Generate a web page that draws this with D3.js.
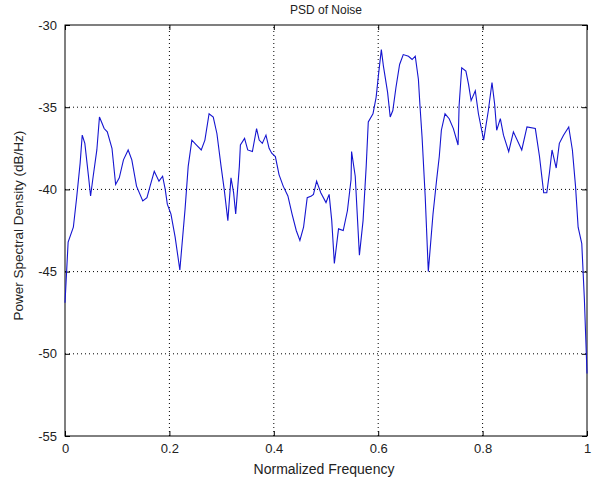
<!DOCTYPE html>
<html>
<head>
<meta charset="utf-8">
<script src="https://cdn.jsdelivr.net/npm/d3@7/dist/d3.min.js"></script>
<style>
  body { margin: 0; background: #fff; }
  text { font-family: "Liberation Sans", Arial, sans-serif; fill: #222; }
</style>
</head>
<body>
<div id="chart"></div>
<script>
var freq = [0, 0.006, 0.016, 0.022, 0.029, 0.033, 0.038, 0.045, 0.049, 0.054,
  0.061, 0.066, 0.070, 0.075, 0.081, 0.090, 0.097, 0.104, 0.112, 0.121,
  0.128, 0.137, 0.149, 0.157, 0.163, 0.171, 0.180, 0.187, 0.192, 0.196,
  0.203, 0.211, 0.220, 0.230, 0.236, 0.243, 0.252, 0.261, 0.268, 0.276,
  0.284, 0.291, 0.299, 0.305, 0.312, 0.318, 0.323, 0.327, 0.334, 0.336,
  0.344, 0.350, 0.359, 0.367, 0.372, 0.378, 0.385, 0.391, 0.396, 0.403,
  0.410, 0.418, 0.427, 0.435, 0.443, 0.450, 0.457, 0.464, 0.472, 0.476,
  0.482, 0.490, 0.500, 0.506, 0.511, 0.516, 0.524, 0.533, 0.541, 0.548,
  0.549, 0.556, 0.564, 0.571, 0.577, 0.581, 0.590, 0.596, 0.601, 0.606,
  0.610, 0.618, 0.623, 0.628, 0.634, 0.641, 0.648, 0.658, 0.665, 0.671,
  0.677, 0.680, 0.684, 0.690, 0.696, 0.705, 0.712, 0.717, 0.721, 0.728,
  0.736, 0.744, 0.753, 0.755, 0.760, 0.768, 0.773, 0.778, 0.786, 0.792,
  0.802, 0.811, 0.818, 0.823, 0.827, 0.834, 0.840, 0.850, 0.859, 0.875,
  0.885, 0.901, 0.909, 0.917, 0.923, 0.928, 0.933, 0.941, 0.947, 0.955,
  0.965, 0.972, 0.978, 0.983, 0.990, 0.995, 1.0];

var psd = [-46.9, -43.2, -42.3, -40.6, -38.4, -36.7, -37.2, -39.2, -40.4, -39.2,
  -37.6, -35.6, -35.9, -36.3, -36.5, -37.5, -39.7, -39.3, -38.2, -37.6,
  -38.2, -39.8, -40.7, -40.5, -39.8, -38.9, -39.5, -39.2, -40.0, -40.9,
  -41.5, -42.9, -44.9, -41.2, -38.6, -37.0, -37.3, -37.6, -37.0, -35.4,
  -35.6, -36.6, -38.6, -40.0, -41.9, -39.3, -40.2, -41.5, -38.6, -37.3,
  -36.9, -37.6, -37.7, -36.3, -37.0, -37.2, -36.7, -37.5, -37.8, -38.0,
  -39.1, -39.8, -40.4, -41.5, -42.5, -43.1, -42.3, -40.5, -40.4, -40.3,
  -39.5, -40.2, -40.8, -40.3, -41.9, -44.5, -42.4, -42.5, -41.3, -39.4,
  -37.7, -39.2, -44.0, -41.9, -38.6, -35.9, -35.4, -34.4, -32.9, -31.5,
  -32.5, -34.1, -35.6, -35.2, -33.8, -32.4, -31.8, -31.9, -32.1, -31.9,
  -33.3, -34.9, -36.8, -40.4, -45.0, -41.5, -39.4, -38.0, -36.4, -35.4,
  -35.7, -36.3, -37.3, -34.9, -32.6, -32.8, -33.6, -34.6, -34.0, -35.4,
  -37.0, -35.2, -33.5, -34.8, -36.4, -35.7, -36.7, -37.7, -36.5, -37.6,
  -36.2, -36.3, -38.0, -40.2, -40.2, -39.0, -37.6, -38.7, -37.2, -36.7,
  -36.2, -37.6, -39.8, -42.3, -43.3, -46.7, -51.2];

var xTicks = [0, 0.2, 0.4, 0.6, 0.8, 1];
var yTicks = [-55, -50, -45, -40, -35, -30];

var width = 597, height = 485;
var margin = { left: 65, right: 10, top: 25, bottom: 49 };

var svg = d3.select("#chart").append("svg")
  .attr("width", width)
  .attr("height", height);

var x = d3.scaleLinear().domain([0, 1]).range([margin.left, width - margin.right]);
var y = d3.scaleLinear().domain([-55, -30]).range([height - margin.bottom, margin.top]);

// dotted grid
svg.append("g").selectAll("line")
  .data(xTicks.slice(1, -1))
  .enter().append("line")
  .attr("x1", d => x(d)).attr("x2", d => x(d))
  .attr("y1", y(-55)).attr("y2", y(-30))
  .attr("stroke", "#000").attr("stroke-width", 1)
  .attr("stroke-dasharray", "1,3");

svg.append("g").selectAll("line")
  .data(yTicks.slice(1, -1))
  .enter().append("line")
  .attr("x1", x(0)).attr("x2", x(1))
  .attr("y1", d => y(d)).attr("y2", d => y(d))
  .attr("stroke", "#000").attr("stroke-width", 1)
  .attr("stroke-dasharray", "1,3");

// axes, ticks pointing inward like matlab
var fmtY = d => d3.format("d")(d).replace("\u2212", "-");
var fmtX = d => d3.format("~g")(d);

function styleAxis(g) {
  g.select(".domain").remove();
  g.selectAll("line").attr("stroke", "#000");
  g.selectAll("text").attr("font-size", 13).attr("fill", "#222")
    .style("font-family", "'Liberation Sans', Arial, sans-serif");
}

svg.append("g")
  .attr("transform", "translate(0," + y(-55) + ")")
  .call(d3.axisBottom(x).tickValues(xTicks).tickFormat(fmtX).tickSizeInner(-5).tickSizeOuter(0).tickPadding(8))
  .call(styleAxis);

svg.append("g")
  .attr("transform", "translate(0," + y(-30) + ")")
  .call(d3.axisTop(x).tickValues(xTicks).tickFormat("").tickSizeInner(-5).tickSizeOuter(0))
  .call(styleAxis);

svg.append("g")
  .attr("transform", "translate(" + x(0) + ",0)")
  .call(d3.axisLeft(y).tickValues(yTicks).tickFormat(fmtY).tickSizeInner(-5).tickSizeOuter(0).tickPadding(8))
  .call(styleAxis);

svg.append("g")
  .attr("transform", "translate(" + x(1) + ",0)")
  .call(d3.axisRight(y).tickValues(yTicks).tickFormat("").tickSizeInner(-5).tickSizeOuter(0))
  .call(styleAxis);

// frame
svg.append("rect")
  .attr("x", x(0)).attr("y", y(-30))
  .attr("width", x(1) - x(0)).attr("height", y(-55) - y(-30))
  .attr("fill", "none").attr("stroke", "#000").attr("stroke-width", 1);

// psd curve
var line = d3.line()
  .x((d, i) => x(freq[i]))
  .y(d => y(d));

svg.append("path")
  .datum(psd)
  .attr("d", line)
  .attr("fill", "none")
  .attr("stroke", "#1515d0")
  .attr("stroke-width", 1.1);

// labels
svg.append("text")
  .attr("x", (x(0) + x(1)) / 2).attr("y", 14)
  .attr("text-anchor", "middle").attr("font-size", 12)
  .text("PSD of Noise");

svg.append("text")
  .attr("x", (x(0) + x(1)) / 2 - 2).attr("y", 474)
  .attr("text-anchor", "middle").attr("font-size", 14)
  .text("Normalized Frequency");

svg.append("text")
  .attr("transform", "translate(23," + (y(-42.2)) + ") rotate(-90)")
  .attr("text-anchor", "middle").attr("font-size", 13.5)
  .text("Power Spectral Density (dB/Hz)");
</script>
</body>
</html>
